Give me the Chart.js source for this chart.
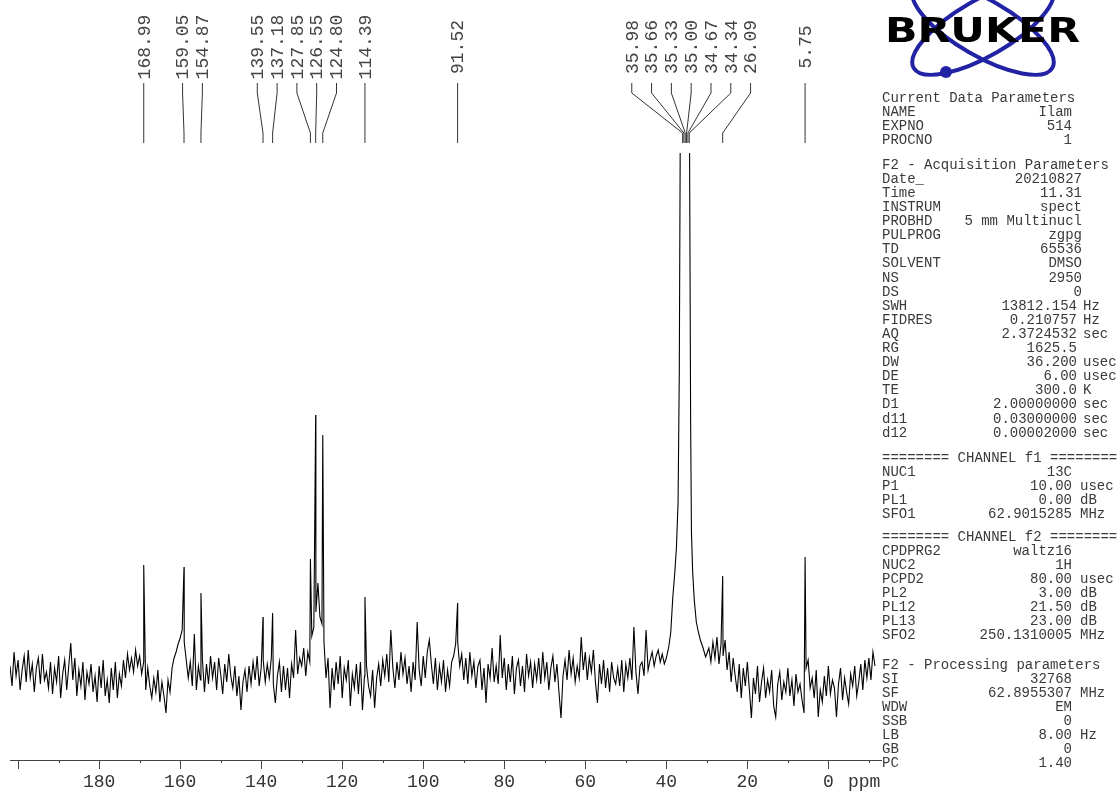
<!DOCTYPE html>
<html>
<head>
<meta charset="utf-8">
<title>13C NMR spectrum</title>
<script src="https://cdn.jsdelivr.net/npm/chart.js@4.4.1/dist/chart.umd.min.js"></script>
<style>
  html, body { margin: 0; background: #fff; }
  #wrap { position: relative; width: 1120px; height: 796px; overflow: hidden; }
  #logo { position: absolute; left: 880px; top: 0; }
</style>
</head>
<body>
<div id="wrap">
  <canvas id="nmr" width="1120" height="796"></canvas>
  <svg id="logo" width="240" height="90" viewBox="0 0 240 90">
    <g fill="none" stroke="#2222a4" stroke-width="4">
      <ellipse cx="103" cy="28" rx="80" ry="28" transform="rotate(30 103 28)"/>
      <ellipse cx="103" cy="28" rx="80" ry="28" transform="rotate(-30 103 28)"/>
    </g>
    <circle cx="66" cy="72" r="6" fill="#2222a4"/>
    <text x="5" y="42" font-family="DejaVu Sans" font-weight="bold" font-size="34"
          textLength="195" lengthAdjust="spacingAndGlyphs" fill="#000">BRUKER</text>
  </svg>
</div>
<script>
// baseline noise, one value every 0.5 ppm
const noiseAStart = 202, noiseBStart = 29.5, noiseStep = 0.5;
const noiseA = [
  6, -14, 20, -4, 12, -18, 2, 16, -10, 22, -6, 8, -20, 4, 14, -12, 18, -8, 0, -16,        // 202 .. 192.5
  10, -22, 4, -10, 16, -26, -2, 12, -18, 6, 29, -8, 14, -24, 2, -14, 10, -28, 0, -12,     // 192 .. 182.5
  8, -20, -4, -30, 6, -16, 12, -24, -8, -31, 4, -18, 10, -26, -2, -14, 12, -6, 18, 2,     // 182 .. 172.5
  14, 0, 22, 6, 16, -2, 10, -18, 4, -14, -26, -6, -20, 2, -30, -10, -24, -41, -8, -20,    // 172 .. 162.5
  4, 14, 20, 28, 34, 42, 30, 12, -6, 10, -14, 38, -18, 6, -8, 12, -20, 8, -12, 16,        // 162 .. 152.5
  -6, 10, -18, 14, -2, -22, 8, -10, 18, -4, -16, 6, -24, -4, -38, -10, 2, -20, 6, -12,    // 152 .. 142.5
  10, -8, 16, -14, 4, 12, -10, 8, -6, 14, -12, -31, -4, 10, -20, 6, -18, 4, -26, 8,       // 142 .. 132.5
  -6, 42, -2, 14, 6, 24, -4, 20, 10, 36, 45, 60, 89, 55, 48, 30, -6, 14, -36, 4,          // 132 .. 122.5
  -18, 10, -12, 16, -26, 4, -8, 12, -34, -2, -16, 8, -22, 10, -38, -4, 6, -14, -24, 2,    // 122 .. 112.5
  -36, -6, 8, -14, 12, -4, 18, -10, 42, 4, -16, 10, -8, 20, -2, 14, -12, 6, -20, 10,      // 112 .. 102.5
  -8, 50, 2, -14, 16, -6, 20, 32, 8, -12, 14, -18, 6, -10, 12, -20, 2, -14, 10, 16,       // 102 .. 92.5
  28, 30, 6, 18, -8, 14, -12, 20, -4, 10, -16, 6, 12, -18, 4, -31, 8, -6, 24, -10,        // 92 .. 82.5
  6, -12, 37, -6, 14, -18, 8, -10, 16, -22, 4, 12, -14, 6, -20, 18, -4, 10, -16, 8,       // 82 .. 72.5
  -8, 14, -12, 20, -6, 10, -18, 4, 16, -10, 8, -20, -46, -4, 12, -8, 22, -2, 14, -10,     // 72 .. 62.5
  6, -6, 35, 2, 20, -8, 14, 0, 22, -10, -31, 8, -12, 12, -16, 4, -20, 10, -6, -12,        // 62 .. 52.5
  4, -14, 12, -20, 8, -6, 14, -8, 45, 0, -22, 6, 10, -4, 42, 2, 12, 20, 6, 16,            // 52 .. 42.5
  22, 10, 18, 8, 14                                                                         // 42 .. 40
];
const noiseB = [
  24, 10, 30, 14, 35, 8, 28, 16, 32, 2, 20, -10, 14, -4, -20, 8, -26, 4, -14, 10,         // 29.5 .. 20
  -18, -46, -6, -22, 6, -30, -10, 4, -26, -8, -20, 2, -34, -45, -12, 0, -28, -10, -20, 4, // 19.5 .. 10
  -24, -8, -34, -2, -20, -12, -28, -41, 4, 12, -16, -6, -26, 2, -45, -18, -30, -4, -24, 6, // 9.5 .. 0
  -22, -8, -16, -45, -12, 4, -28, -6, -20, -32, -2, -14, 6, -24, -10, 8, -18, 12, -6, 14, // -0.5 .. -10
  -8, 20, 6                                                                                 // -10.5 .. -11.5
];

// sharp carbon lines
const peakPpm    = [168.99, 159.05, 154.87, 139.55, 137.18, 127.85, 126.55, 124.80, 114.39, 91.52, 26.09, 5.75];
const peakHeight = [107, 105, 79, 55, 59, 113, 257, 237, 75, 69, 96, 115];

// solvent multiplet (goes off scale)
const dmsoPpm    = [39.4, 38.9, 38.4, 37.9, 37.5, 37.1, 36.8, 36.5, 36.2, 35.8, 35.4, 35.0, 34.7, 34.5, 34.3, 34.0, 33.8, 33.5, 33.1, 32.6, 32.1, 31.6, 31.0, 30.3];
const dmsoHeight = [25, 40, 75, 100, 125, 170, 300, 600, 1000, 1400, 1600, 1600, 1400, 1000, 560, 250, 140, 100, 72, 50, 40, 32, 25, 15];

// peak pick labels
const labelPpm = [168.99, 159.05, 154.87, 139.55, 137.18, 127.85, 126.55, 124.80, 114.39, 91.52,
                  35.98, 35.66, 35.33, 35.00, 34.67, 34.34, 26.09, 5.75];

const panel = [
  { y: 98, vn: 1072, vu: 1072, ux: 1080, rows: [
    ['Current Data Parameters'], ['NAME', 'Ilam'], ['EXPNO', '514'], ['PROCNO', '1']] },
  { y: 165, vn: 1082, vu: 1077, ux: 1083, rows: [
    ['F2 - Acquisition Parameters'], ['Date_', '20210827'], ['Time', '11.31'], ['INSTRUM', 'spect'],
    ['PROBHD', '5 mm Multinucl'], ['PULPROG', 'zgpg'], ['TD', '65536'], ['SOLVENT', 'DMSO'],
    ['NS', '2950'], ['DS', '0'], ['SWH', '13812.154', 'Hz'], ['FIDRES', '0.210757', 'Hz'],
    ['AQ', '2.3724532', 'sec'], ['RG', '1625.5', ''], ['DW', '36.200', 'usec'], ['DE', '6.00', 'usec'],
    ['TE', '300.0', 'K'], ['D1', '2.00000000', 'sec'], ['d11', '0.03000000', 'sec'], ['d12', '0.00002000', 'sec']] },
  { y: 458, vn: 1072, vu: 1072, ux: 1080, rows: [
    ['======== CHANNEL f1 ========'], ['NUC1', '13C'], ['P1', '10.00', 'usec'], ['PL1', '0.00', 'dB'],
    ['SFO1', '62.9015285', 'MHz']] },
  { y: 537, vn: 1072, vu: 1072, ux: 1080, rows: [
    ['======== CHANNEL f2 ========'], ['CPDPRG2', 'waltz16'], ['NUC2', '1H'], ['PCPD2', '80.00', 'usec'],
    ['PL2', '3.00', 'dB'], ['PL12', '21.50', 'dB'], ['PL13', '23.00', 'dB'], ['SFO2', '250.1310005', 'MHz']] },
  { y: 665, vn: 1072, vu: 1072, ux: 1080, rows: [
    ['F2 - Processing parameters'], ['SI', '32768'], ['SF', '62.8955307', 'MHz'], ['WDW', 'EM'],
    ['SSB', '0'], ['LB', '8.00', 'Hz'], ['GB', '0'], ['PC', '1.40']] }
];

// put everything on one ppm-sorted trace
let points = [];
noiseA.forEach((v, i) => points.push({ x: noiseAStart - i * noiseStep, y: v }));
noiseB.forEach((v, i) => points.push({ x: noiseBStart - i * noiseStep, y: v }));
peakPpm.forEach((p, i) => points.push({ x: p, y: peakHeight[i] }));
dmsoPpm.forEach((p, i) => points.push({ x: p, y: dmsoHeight[i] }));
points.sort((a, b) => b.x - a.x);

// spread label positions so they don't overlap, keep groups centred on their peaks
function spread(px, gap) {
  let cl = px.map(p => ({ sum: p, n: 1 }));
  let merged = true;
  while (merged) {
    merged = false;
    for (let k = 1; k < cl.length; k++) {
      const a = cl[k - 1], b = cl[k];
      const aEnd = a.sum / a.n + (a.n - 1) * gap / 2;
      const bStart = b.sum / b.n - (b.n - 1) * gap / 2;
      if (bStart - aEnd < gap) {
        cl.splice(k - 1, 2, { sum: a.sum + b.sum, n: a.n + b.n });
        merged = true;
        break;
      }
    }
  }
  const out = [];
  cl.forEach(c => {
    const s = c.sum / c.n - (c.n - 1) * gap / 2;
    for (let j = 0; j < c.n; j++) out.push(s + j * gap);
  });
  return out;
}

const decor = {
  id: 'decor',
  afterDraw(chart) {
    const ctx = chart.ctx, xs = chart.scales.x, a = chart.chartArea;
    ctx.save();

    // major / minor ticks + axis run-out to the right
    ctx.strokeStyle = '#444';
    ctx.lineWidth = 1;
    ctx.beginPath();
    for (let v = -10; v <= 200; v += 10) {
      const px = Math.round(xs.getPixelForValue(v)) + 0.5;
      ctx.moveTo(px, a.bottom);
      ctx.lineTo(px, a.bottom + (v % 20 === 0 ? 9 : 3));
    }
    ctx.moveTo(a.right, a.bottom + 0.5);
    ctx.lineTo(882, a.bottom + 0.5);
    ctx.stroke();

    ctx.fillStyle = '#333';
    ctx.font = '18px "Liberation Mono"';
    ctx.textBaseline = 'middle';
    ctx.textAlign = 'left';
    ctx.fillText('ppm', 848, 782);

    // peak labels and leader lines
    const px = labelPpm.map(v => xs.getPixelForValue(v));
    const lx = spread(px, 19.8);
    ctx.strokeStyle = '#333';
    ctx.beginPath();
    px.forEach((p, i) => {
      ctx.moveTo(lx[i], 83);
      ctx.lineTo(lx[i], 93);
      ctx.lineTo(p, 133);
      ctx.lineTo(p, 143);
    });
    ctx.stroke();
    ctx.fillStyle = '#444';
    ctx.textAlign = 'center';
    labelPpm.forEach((v, i) => {
      ctx.save();
      ctx.translate(lx[i], 47);
      ctx.rotate(-Math.PI / 2);
      ctx.fillText(v.toFixed(2), 0, 1);
      ctx.restore();
    });

    // acquisition / processing parameters
    ctx.font = '14px "Liberation Mono"';
    ctx.fillStyle = '#3a3a3a';
    panel.forEach(b => {
      b.rows.forEach((r, i) => {
        const y = b.y + i * 14.1;
        ctx.textAlign = 'left';
        ctx.fillText(r[0], 882, y);
        if (r.length > 1) {
          const unit = r.length > 2;
          ctx.textAlign = 'right';
          ctx.fillText(r[1], unit ? b.vu : b.vn, y);
          if (unit && r[2]) {
            ctx.textAlign = 'left';
            ctx.fillText(r[2], b.ux, y);
          }
        }
      });
    });
    ctx.restore();
  }
};

new Chart(document.getElementById('nmr'), {
  type: 'line',
  data: {
    datasets: [{
      data: points,
      borderColor: '#000',
      borderWidth: 1.1,
      pointRadius: 0,
      tension: 0,
      fill: false
    }]
  },
  options: {
    responsive: false,
    animation: false,
    layout: { padding: { top: 153, left: 10, right: 243, bottom: 0 } },
    plugins: { legend: { display: false }, tooltip: { enabled: false } },
    scales: {
      x: {
        type: 'linear',
        reverse: true,
        min: -12,
        max: 202,
        afterFit(s) { s.height = 36; },
        border: { display: true, color: '#444', width: 1 },
        grid: { drawOnChartArea: false, drawTicks: true, tickLength: 9, tickColor: 'rgba(0,0,0,0)' },
        ticks: {
          stepSize: 10,
          includeBounds: false,
          autoSkip: false,
          maxRotation: 0,
          color: '#333',
          padding: 2,
          font: { family: 'Liberation Mono, monospace', size: 18 },
          callback: v => (v % 20 === 0 && v < 200) ? String(v) : ''
        }
      },
      y: { display: false, min: -88, max: 519 }
    }
  },
  plugins: [decor]
});
</script>
</body>
</html>
